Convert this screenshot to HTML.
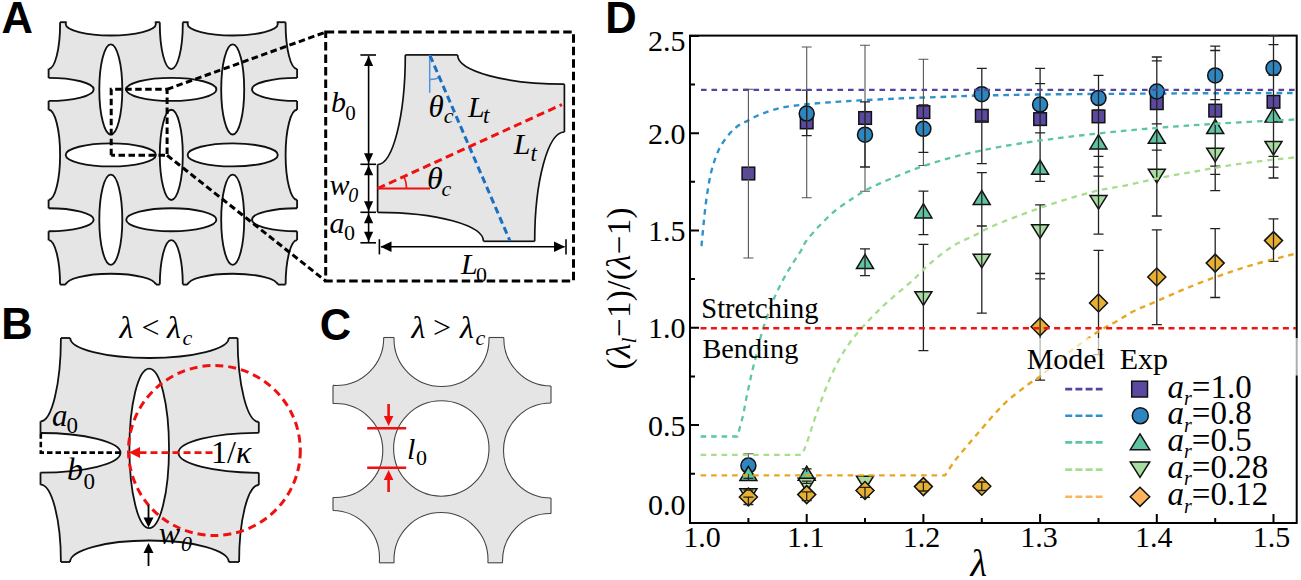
<!DOCTYPE html>
<html><head><meta charset="utf-8"><style>
html,body{margin:0;padding:0;background:#fff;width:1301px;height:580px;overflow:hidden}
svg{display:block}
text{fill:#000}
</style></head><body>
<svg width="1301" height="580" viewBox="0 0 1301 580">
<defs><clipPath id="cA"><rect x="48.6" y="22.2" width="248.5" height="262.4"/></clipPath><mask id="mA" maskUnits="userSpaceOnUse" x="0" y="0" width="1301" height="580"><rect x="0" y="0" width="1301" height="580" fill="#fff"/><ellipse cx="48.6" cy="24" rx="11.5" ry="45.1" fill="#000"/><ellipse cx="110.8" cy="24" rx="45.1" ry="11.5" fill="#000"/><ellipse cx="171.3" cy="24" rx="11.5" ry="45.1" fill="#000"/><ellipse cx="232.7" cy="24" rx="45.1" ry="11.5" fill="#000"/><ellipse cx="297.1" cy="24" rx="11.5" ry="45.1" fill="#000"/><ellipse cx="48.6" cy="89.4" rx="45.1" ry="11.5" fill="#000"/><ellipse cx="110.8" cy="89.4" rx="11.5" ry="45.1" fill="#000"/><ellipse cx="171.3" cy="89.4" rx="45.1" ry="11.5" fill="#000"/><ellipse cx="232.7" cy="89.4" rx="11.5" ry="45.1" fill="#000"/><ellipse cx="297.1" cy="89.4" rx="45.1" ry="11.5" fill="#000"/><ellipse cx="48.6" cy="154.9" rx="11.5" ry="45.1" fill="#000"/><ellipse cx="110.8" cy="154.9" rx="45.1" ry="11.5" fill="#000"/><ellipse cx="171.3" cy="154.9" rx="11.5" ry="45.1" fill="#000"/><ellipse cx="232.7" cy="154.9" rx="45.1" ry="11.5" fill="#000"/><ellipse cx="297.1" cy="154.9" rx="11.5" ry="45.1" fill="#000"/><ellipse cx="48.6" cy="219.7" rx="45.1" ry="11.5" fill="#000"/><ellipse cx="110.8" cy="219.7" rx="11.5" ry="45.1" fill="#000"/><ellipse cx="171.3" cy="219.7" rx="45.1" ry="11.5" fill="#000"/><ellipse cx="232.7" cy="219.7" rx="11.5" ry="45.1" fill="#000"/><ellipse cx="297.1" cy="219.7" rx="45.1" ry="11.5" fill="#000"/><ellipse cx="48.6" cy="285.2" rx="11.5" ry="45.1" fill="#000"/><ellipse cx="110.8" cy="285.2" rx="45.1" ry="11.5" fill="#000"/><ellipse cx="171.3" cy="285.2" rx="11.5" ry="45.1" fill="#000"/><ellipse cx="232.7" cy="285.2" rx="45.1" ry="11.5" fill="#000"/><ellipse cx="297.1" cy="285.2" rx="11.5" ry="45.1" fill="#000"/></mask><clipPath id="cI"><rect x="377.6" y="54.9" width="186.8" height="186.4"/></clipPath><mask id="mI" maskUnits="userSpaceOnUse" x="0" y="0" width="1301" height="580"><rect x="0" y="0" width="1301" height="580" fill="#fff"/><ellipse cx="377.6" cy="54.9" rx="27.7" ry="109.6" fill="#000"/><ellipse cx="564.4" cy="54.9" rx="106.8" ry="29.3" fill="#000"/><ellipse cx="377.6" cy="241.3" rx="105.9" ry="29" fill="#000"/><ellipse cx="564.4" cy="241.3" rx="29.7" ry="109.3" fill="#000"/></mask><clipPath id="cB"><rect x="40.5" y="338" width="218.3" height="224"/></clipPath><mask id="mB" maskUnits="userSpaceOnUse" x="0" y="0" width="1301" height="580"><rect x="0" y="0" width="1301" height="580" fill="#fff"/><ellipse cx="149.5" cy="338" rx="79.3" ry="20" fill="#000"/><ellipse cx="40.5" cy="338" rx="20.4" ry="83.4" fill="#000"/><ellipse cx="258.8" cy="338" rx="21.2" ry="84" fill="#000"/><ellipse cx="40.5" cy="452.8" rx="80" ry="19.8" fill="#000"/><ellipse cx="258.8" cy="452.8" rx="80.4" ry="20" fill="#000"/><ellipse cx="149.2" cy="448.4" rx="19.8" ry="79.8" fill="#000"/><ellipse cx="40.5" cy="562" rx="20.4" ry="77.3" fill="#000"/><ellipse cx="258.8" cy="562" rx="19.7" ry="77" fill="#000"/><ellipse cx="149.4" cy="562" rx="79.4" ry="21.5" fill="#000"/></mask><clipPath id="cC"><rect x="333" y="337.5" width="218" height="225.3"/></clipPath><mask id="mC" maskUnits="userSpaceOnUse" x="0" y="0" width="1301" height="580"><rect x="0" y="0" width="1301" height="580" fill="#fff"/><ellipse cx="336.2" cy="338" rx="47.5" ry="47.5" fill="#000"/><ellipse cx="441.5" cy="339" rx="47.5" ry="47.5" fill="#000"/><ellipse cx="551.3" cy="338.5" rx="47.5" ry="47.5" fill="#000"/><ellipse cx="335.8" cy="450.5" rx="47" ry="47" fill="#000"/><ellipse cx="441.3" cy="448.5" rx="47.7" ry="47.7" fill="#000"/><ellipse cx="551" cy="450.5" rx="47.5" ry="47.5" fill="#000"/><ellipse cx="332" cy="558" rx="47.5" ry="47.5" fill="#000"/><ellipse cx="441" cy="559.5" rx="47" ry="47" fill="#000"/><ellipse cx="550" cy="561" rx="47.5" ry="47.5" fill="#000"/></mask><clipPath id="cp"><rect x="690" y="35.6" width="606.7" height="487.4"/></clipPath></defs>
<text x="1.6" y="32.6" style="font-family:'Liberation Sans',sans-serif;font-weight:bold;font-size:43.5px">A</text>
<text x="1.3" y="338.8" style="font-family:'Liberation Sans',sans-serif;font-weight:bold;font-size:43.5px">B</text>
<text x="319.8" y="339.9" style="font-family:'Liberation Sans',sans-serif;font-weight:bold;font-size:43.5px">C</text>
<text x="605.2" y="32.8" style="font-family:'Liberation Sans',sans-serif;font-weight:bold;font-size:43.5px">D</text>
<rect x="48.6" y="22.2" width="248.5" height="262.4" fill="#e5e5e5" mask="url(#mA)"/>
<g clip-path="url(#cA)" fill="none" stroke="#111" stroke-width="1.85">
<ellipse cx="48.6" cy="24" rx="11.5" ry="45.1"/>
<ellipse cx="110.8" cy="24" rx="45.1" ry="11.5"/>
<ellipse cx="171.3" cy="24" rx="11.5" ry="45.1"/>
<ellipse cx="232.7" cy="24" rx="45.1" ry="11.5"/>
<ellipse cx="297.1" cy="24" rx="11.5" ry="45.1"/>
<ellipse cx="48.6" cy="89.4" rx="45.1" ry="11.5"/>
<ellipse cx="110.8" cy="89.4" rx="11.5" ry="45.1"/>
<ellipse cx="171.3" cy="89.4" rx="45.1" ry="11.5"/>
<ellipse cx="232.7" cy="89.4" rx="11.5" ry="45.1"/>
<ellipse cx="297.1" cy="89.4" rx="45.1" ry="11.5"/>
<ellipse cx="48.6" cy="154.9" rx="11.5" ry="45.1"/>
<ellipse cx="110.8" cy="154.9" rx="45.1" ry="11.5"/>
<ellipse cx="171.3" cy="154.9" rx="11.5" ry="45.1"/>
<ellipse cx="232.7" cy="154.9" rx="45.1" ry="11.5"/>
<ellipse cx="297.1" cy="154.9" rx="11.5" ry="45.1"/>
<ellipse cx="48.6" cy="219.7" rx="45.1" ry="11.5"/>
<ellipse cx="110.8" cy="219.7" rx="11.5" ry="45.1"/>
<ellipse cx="171.3" cy="219.7" rx="45.1" ry="11.5"/>
<ellipse cx="232.7" cy="219.7" rx="11.5" ry="45.1"/>
<ellipse cx="297.1" cy="219.7" rx="45.1" ry="11.5"/>
<ellipse cx="48.6" cy="285.2" rx="11.5" ry="45.1"/>
<ellipse cx="110.8" cy="285.2" rx="45.1" ry="11.5"/>
<ellipse cx="171.3" cy="285.2" rx="11.5" ry="45.1"/>
<ellipse cx="232.7" cy="285.2" rx="45.1" ry="11.5"/>
<ellipse cx="297.1" cy="285.2" rx="11.5" ry="45.1"/>
</g>
<rect x="48.6" y="22.2" width="248.5" height="262.4" fill="none" stroke="#111" stroke-width="1.85" mask="url(#mA)"/>
<path d="M111.2 155.3 V89.3 H167.1 V155.3 H111.2" stroke="#000" stroke-width="3" fill="none" stroke-dasharray="6.5 3.5"/>
<path d="M167.1 89.3 L325.7 32.1 M167.1 155.3 L325.7 281" stroke="#000" stroke-width="3" fill="none" stroke-dasharray="6.5 3.5"/>
<rect x="325.7" y="32.1" width="247.8" height="248.9" stroke="#000" stroke-width="3" fill="none" stroke-dasharray="8.5 4"/>
<rect x="377.6" y="54.9" width="186.8" height="186.4" fill="#e5e5e5" mask="url(#mI)"/>
<g clip-path="url(#cI)" fill="none" stroke="#111" stroke-width="1.7">
<ellipse cx="377.6" cy="54.9" rx="27.7" ry="109.6"/>
<ellipse cx="564.4" cy="54.9" rx="106.8" ry="29.3"/>
<ellipse cx="377.6" cy="241.3" rx="105.9" ry="29"/>
<ellipse cx="564.4" cy="241.3" rx="29.7" ry="109.3"/>
</g>
<rect x="377.6" y="54.9" width="186.8" height="186.4" fill="none" stroke="#111" stroke-width="1.7" mask="url(#mI)"/>
<g stroke="#000" stroke-width="1.6">
<line x1="360.4" y1="55" x2="376" y2="55"/>
<line x1="360.4" y1="164.3" x2="376" y2="164.3"/>
<line x1="360.4" y1="212.3" x2="376" y2="212.3"/>
<line x1="360.4" y1="242.8" x2="376" y2="242.8"/>
<line x1="368.6" y1="56" x2="368.6" y2="242"/>
<line x1="379.4" y1="239.2" x2="379.4" y2="254.4"/>
<line x1="566" y1="239.2" x2="566" y2="254.4"/>
<line x1="381" y1="246.8" x2="564.5" y2="246.8"/>
</g>
<path d="M368.6 56 L373.2 66 L364 66 Z" fill="#000"/>
<path d="M368.6 163.3 L364 153.3 L373.2 153.3 Z" fill="#000"/>
<path d="M368.6 165.3 L373.2 175.3 L364 175.3 Z" fill="#000"/>
<path d="M368.6 211.3 L364 201.3 L373.2 201.3 Z" fill="#000"/>
<path d="M368.6 213.3 L373.2 223.3 L364 223.3 Z" fill="#000"/>
<path d="M368.6 241.8 L364 231.8 L373.2 231.8 Z" fill="#000"/>
<path d="M380.5 246.8 L391.5 241.6 L391.5 252 Z" fill="#000"/>
<path d="M565 246.8 L554 252 L554 241.6 Z" fill="#000"/>
<line x1="429.7" y1="55" x2="429.7" y2="92.8" stroke="#4f93dc" stroke-width="1.5"/>
<path d="M430 79.5 A24.5 24.5 0 0 0 439.7 77.5" fill="none" stroke="#4f93dc" stroke-width="1.5"/>
<line x1="430" y1="55.5" x2="510" y2="241" stroke="#1a6fc4" stroke-width="3" stroke-dasharray="7 4"/>
<line x1="377.6" y1="188.5" x2="430" y2="188.5" stroke="#f01010" stroke-width="1.8"/>
<path d="M406.6 188.5 A29 29 0 0 0 404 176.5" fill="none" stroke="#f01010" stroke-width="1.6"/>
<line x1="377.6" y1="188.5" x2="562" y2="104.5" stroke="#f01010" stroke-width="3" stroke-dasharray="8 4.5"/>
<text x="331" y="112.3" style="font-family:'Liberation Serif',serif;font-style:italic;font-size:30px" >b</text>
<text x="345.2" y="119.9" style="font-family:'Liberation Serif',serif;font-size:21px" >0</text>
<text x="329.5" y="194.6" style="font-family:'Liberation Serif',serif;font-style:italic;font-size:30px" >w</text>
<text x="348.3" y="201.7" style="font-family:'Liberation Serif',serif;font-style:italic;font-size:20px" >0</text>
<text x="329.6" y="233.3" style="font-family:'Liberation Serif',serif;font-style:italic;font-size:30px" >a</text>
<text x="344.1" y="240.2" style="font-family:'Liberation Serif',serif;font-size:22px" >0</text>
<text x="428.5" y="117.4" style="font-family:'Liberation Serif',serif;font-style:italic;font-size:31px" >θ</text>
<text x="443.8" y="122.9" style="font-family:'Liberation Serif',serif;font-style:italic;font-size:22px" >c</text>
<text x="468" y="116.9" style="font-family:'Liberation Serif',serif;font-style:italic;font-size:30px" >L</text>
<text x="483" y="123" style="font-family:'Liberation Serif',serif;font-style:italic;font-size:23px" >t</text>
<text x="513.8" y="153.8" style="font-family:'Liberation Serif',serif;font-style:italic;font-size:30px" >L</text>
<text x="530.5" y="161" style="font-family:'Liberation Serif',serif;font-style:italic;font-size:23px" >t</text>
<text x="427" y="188.7" style="font-family:'Liberation Serif',serif;font-style:italic;font-size:32px" >θ</text>
<text x="441.4" y="195.7" style="font-family:'Liberation Serif',serif;font-style:italic;font-size:22px" >c</text>
<text x="461" y="274.4" style="font-family:'Liberation Serif',serif;font-style:italic;font-size:30px" >L</text>
<text x="476" y="281.5" style="font-family:'Liberation Serif',serif;font-size:22px" >0</text>
<rect x="40.5" y="338" width="218.3" height="224" fill="#e5e5e5" mask="url(#mB)"/>
<g clip-path="url(#cB)" fill="none" stroke="#111" stroke-width="1.8">
<ellipse cx="149.5" cy="338" rx="79.3" ry="20"/>
<ellipse cx="40.5" cy="338" rx="20.4" ry="83.4"/>
<ellipse cx="258.8" cy="338" rx="21.2" ry="84"/>
<ellipse cx="40.5" cy="452.8" rx="80" ry="19.8"/>
<ellipse cx="258.8" cy="452.8" rx="80.4" ry="20"/>
<ellipse cx="149.2" cy="448.4" rx="19.8" ry="79.8"/>
<ellipse cx="40.5" cy="562" rx="20.4" ry="77.3"/>
<ellipse cx="258.8" cy="562" rx="19.7" ry="77"/>
<ellipse cx="149.4" cy="562" rx="79.4" ry="21.5"/>
</g>
<rect x="40.5" y="338" width="218.3" height="224" fill="none" stroke="#111" stroke-width="1.8" mask="url(#mB)"/>
<path d="M40.8 433.3 V452.6 H120" stroke="#000" stroke-width="2.6" fill="none" stroke-dasharray="5.5 3"/>
<ellipse cx="214.4" cy="450.5" rx="85.9" ry="85" fill="none" stroke="#f01010" stroke-width="3" stroke-dasharray="8 5"/>
<line x1="212.5" y1="452.6" x2="136" y2="452.6" stroke="#f01010" stroke-width="2.6" stroke-dasharray="7 4"/>
<path d="M129 452.6 L140 447.1 L140 458.1 Z" fill="#f01010"/>
<line x1="148.5" y1="505" x2="148.5" y2="520" stroke="#000" stroke-width="1.8"/>
<path d="M148.5 527.5 L143.5 517.5 L153.5 517.5 Z" fill="#000"/>
<line x1="148.5" y1="566" x2="148.5" y2="550" stroke="#000" stroke-width="1.8"/>
<path d="M148.5 543 L153.5 553 L143.5 553 Z" fill="#000"/>
<text x="119.5" y="338.3" style="font-family:'Liberation Serif',serif;font-style:italic;font-size:32px" >λ</text>
<text x="141.5" y="338.3" style="font-family:'Liberation Serif',serif;font-size:32px" >&lt;</text>
<text x="167" y="338.3" style="font-family:'Liberation Serif',serif;font-style:italic;font-size:32px" >λ</text>
<text x="182.5" y="344.5" style="font-family:'Liberation Serif',serif;font-style:italic;font-size:22px" >c</text>
<text x="52" y="426.2" style="font-family:'Liberation Serif',serif;font-style:italic;font-size:31px" >a</text>
<text x="66.5" y="433.4" style="font-family:'Liberation Serif',serif;font-size:23px" >0</text>
<text x="67" y="479.9" style="font-family:'Liberation Serif',serif;font-style:italic;font-size:32px" >b</text>
<text x="83.6" y="488.6" style="font-family:'Liberation Serif',serif;font-size:23px" >0</text>
<text x="211.1" y="463.3" style="font-family:'Liberation Serif',serif;font-size:32px">1/<tspan style="font-style:italic">κ</tspan></text>
<text x="158.8" y="544.3" style="font-family:'Liberation Serif',serif;font-style:italic;font-size:32px" >w</text>
<text x="180.9" y="551.3" style="font-family:'Liberation Serif',serif;font-style:italic;font-size:22px" >0</text>
<rect x="333" y="337.5" width="218" height="225.3" fill="#e5e5e5" mask="url(#mC)"/>
<g clip-path="url(#cC)" fill="none" stroke="#444" stroke-width="1.1">
<ellipse cx="336.2" cy="338" rx="47.5" ry="47.5"/>
<ellipse cx="441.5" cy="339" rx="47.5" ry="47.5"/>
<ellipse cx="551.3" cy="338.5" rx="47.5" ry="47.5"/>
<ellipse cx="335.8" cy="450.5" rx="47" ry="47"/>
<ellipse cx="441.3" cy="448.5" rx="47.7" ry="47.7"/>
<ellipse cx="551" cy="450.5" rx="47.5" ry="47.5"/>
<ellipse cx="332" cy="558" rx="47.5" ry="47.5"/>
<ellipse cx="441" cy="559.5" rx="47" ry="47"/>
<ellipse cx="550" cy="561" rx="47.5" ry="47.5"/>
</g>
<rect x="333" y="337.5" width="218" height="225.3" fill="none" stroke="#444" stroke-width="1.1" mask="url(#mC)"/>
<text x="411.5" y="337.9" style="font-family:'Liberation Serif',serif;font-style:italic;font-size:32px" >λ</text>
<text x="433" y="337.9" style="font-family:'Liberation Serif',serif;font-size:32px" >&gt;</text>
<text x="460" y="337.9" style="font-family:'Liberation Serif',serif;font-style:italic;font-size:32px" >λ</text>
<text x="475.5" y="344.5" style="font-family:'Liberation Serif',serif;font-style:italic;font-size:22px" >c</text>
<g stroke="#f01010" stroke-width="2.6"><line x1="367.2" y1="428.3" x2="406.2" y2="428.3"/><line x1="367.2" y1="467.7" x2="406.2" y2="467.7"/><line x1="388.6" y1="404" x2="388.6" y2="418"/><line x1="388.6" y1="478" x2="388.6" y2="492"/></g>
<path d="M388.6 426 L383.8 416 L393.4 416 Z" fill="#f01010"/>
<path d="M388.6 470 L393.4 480 L383.8 480 Z" fill="#f01010"/>
<text x="407" y="459" style="font-family:'Liberation Serif',serif;font-style:italic;font-size:30px" >l</text>
<text x="416" y="465.2" style="font-family:'Liberation Serif',serif;font-size:22px" >0</text>
<rect x="690" y="35.6" width="606.7" height="487.4" fill="none" stroke="#000" stroke-width="2"/>
<path d="M690 473.8 h5 M690 425.1 h9 M690 376.4 h5 M690 327.8 h9 M690 279.1 h5 M690 230.5 h9 M690 181.8 h5 M690 133.2 h9 M690 84.6 h5 M690 35.9 h9 M748.4 523 v-5 M806.7 523 v-9 M865 523 v-5 M923.4 523 v-9 M981.8 523 v-5 M1040.1 523 v-9 M1098.5 523 v-5 M1156.8 523 v-9 M1215.2 523 v-5 M1273.5 523 v-9" stroke="#000" stroke-width="2" fill="none"/>
<text x="685.6" y="515.3" text-anchor="end" style="font-family:'Liberation Serif',serif;font-size:30px">0.0</text>
<text x="685.6" y="435.5" text-anchor="end" style="font-family:'Liberation Serif',serif;font-size:30px">0.5</text>
<text x="685.6" y="338.2" text-anchor="end" style="font-family:'Liberation Serif',serif;font-size:30px">1.0</text>
<text x="685.6" y="240.9" text-anchor="end" style="font-family:'Liberation Serif',serif;font-size:30px">1.5</text>
<text x="685.6" y="143.6" text-anchor="end" style="font-family:'Liberation Serif',serif;font-size:30px">2.0</text>
<text x="685.6" y="51.2" text-anchor="end" style="font-family:'Liberation Serif',serif;font-size:30px">2.5</text>
<text x="702" y="546.8" text-anchor="middle" style="font-family:'Liberation Serif',serif;font-size:30px">1.0</text>
<text x="805.7" y="546.8" text-anchor="middle" style="font-family:'Liberation Serif',serif;font-size:30px">1.1</text>
<text x="921.4" y="546.8" text-anchor="middle" style="font-family:'Liberation Serif',serif;font-size:30px">1.2</text>
<text x="1039.1" y="546.8" text-anchor="middle" style="font-family:'Liberation Serif',serif;font-size:30px">1.3</text>
<text x="1153.8" y="546.8" text-anchor="middle" style="font-family:'Liberation Serif',serif;font-size:30px">1.4</text>
<text x="1271.5" y="546.8" text-anchor="middle" style="font-family:'Liberation Serif',serif;font-size:30px">1.5</text>
<text x="970.5" y="576.2" style="font-family:'Liberation Serif',serif;font-style:italic;font-size:38px" >λ</text>
<text transform="translate(629.8,288.3) rotate(-90)" text-anchor="middle" style="font-family:'Liberation Serif',serif;font-size:33px;letter-spacing:0.35px">(<tspan style="font-style:italic">λ</tspan><tspan style="font-style:italic;font-size:22px" dy="6">l</tspan><tspan dy="-6">−1)/(</tspan><tspan style="font-style:italic">λ</tspan>−1)</text>
<g clip-path="url(#cp)" fill="none" stroke-width="2.4" stroke-dasharray="5.6 4.9">
<path d="M701.5 246.1 C701.9 241.7 703.1 228.3 704 219.8 C704.9 211.3 705.7 203.3 707 195 C708.3 186.7 709.6 177.8 711.7 170 C713.8 162.2 716.4 154.5 719.5 148.3 C722.6 142.1 727 136.8 730.4 132.8 C733.8 128.8 737.1 126.5 740 124.5 C742.9 122.5 744.7 122.3 748 120.6 C751.3 118.9 754.7 116.6 760 114.5 C765.3 112.4 773.3 109.6 780 108 C786.7 106.4 793.3 105.8 800 105 C806.7 104.2 813.3 103.6 820 103 C826.7 102.4 833.3 102 840 101.6 C846.7 101.2 850 100.9 860 100.4 C870 99.9 886.7 99 900 98.4 C913.3 97.8 926.7 97.5 940 97 C953.3 96.5 963.3 96 980 95.6 C996.7 95.2 1016.7 94.8 1040 94.5 C1063.3 94.2 1093.3 94 1120 93.8 C1146.7 93.6 1170.7 93.4 1200 93.3 C1229.3 93.2 1280 93 1296 93" stroke="#2d92cc"/>
</g>
<rect x="742.1" y="167.2" width="12.6" height="12.6" fill="#5b48a0" stroke="#111" stroke-width="1.5"/>
<circle cx="748.4" cy="465.6" r="7.5" fill="#2e86c1" stroke="#111" stroke-width="1.5"/>
<path d="M748.4 466.3 L756.9 480.5 L739.9 480.5 Z" fill="#5fc3a0" stroke="#111" stroke-width="1.5" stroke-linejoin="miter"/>
<path d="M748.4 502.3 L756.9 488.7 L739.9 488.7 Z" fill="#a8dca0" stroke="#111" stroke-width="1.5"/>
<path d="M748.4 488 L757.4 497 L748.4 506 L739.4 497 Z" fill="#e8b030" stroke="#111" stroke-width="1.5"/>
<rect x="800.4" y="116.1" width="12.6" height="12.6" fill="#5b48a0" stroke="#111" stroke-width="1.5"/>
<circle cx="806.7" cy="113.6" r="7.5" fill="#2e86c1" stroke="#111" stroke-width="1.5"/>
<path d="M806.7 466.1 L815.2 480.3 L798.2 480.3 Z" fill="#5fc3a0" stroke="#111" stroke-width="1.5" stroke-linejoin="miter"/>
<path d="M806.7 491.8 L815.2 478.2 L798.2 478.2 Z" fill="#a8dca0" stroke="#111" stroke-width="1.5"/>
<path d="M806.7 485.6 L815.7 494.6 L806.7 503.6 L797.7 494.6 Z" fill="#e8b030" stroke="#111" stroke-width="1.5"/>
<rect x="858.8" y="111.7" width="12.6" height="12.6" fill="#5b48a0" stroke="#111" stroke-width="1.5"/>
<circle cx="865" cy="134.7" r="7.5" fill="#2e86c1" stroke="#111" stroke-width="1.5"/>
<path d="M865 254.4 L873.5 268.6 L856.5 268.6 Z" fill="#5fc3a0" stroke="#111" stroke-width="1.5" stroke-linejoin="miter"/>
<path d="M865 489.8 L873.5 476.2 L856.5 476.2 Z" fill="#a8dca0" stroke="#111" stroke-width="1.5"/>
<path d="M865 481.5 L874 490.5 L865 499.5 L856 490.5 Z" fill="#e8b030" stroke="#111" stroke-width="1.5"/>
<rect x="917.1" y="105.8" width="12.6" height="12.6" fill="#5b48a0" stroke="#111" stroke-width="1.5"/>
<circle cx="923.4" cy="128.8" r="7.5" fill="#2e86c1" stroke="#111" stroke-width="1.5"/>
<path d="M923.4 203.7 L931.9 217.9 L914.9 217.9 Z" fill="#5fc3a0" stroke="#111" stroke-width="1.5" stroke-linejoin="miter"/>
<path d="M923.4 305.3 L931.9 291.7 L914.9 291.7 Z" fill="#a8dca0" stroke="#111" stroke-width="1.5"/>
<path d="M923.4 477.6 L932.4 486.6 L923.4 495.6 L914.4 486.6 Z" fill="#e8b030" stroke="#111" stroke-width="1.5"/>
<rect x="975.5" y="109.5" width="12.6" height="12.6" fill="#5b48a0" stroke="#111" stroke-width="1.5"/>
<circle cx="981.8" cy="94.2" r="7.5" fill="#2e86c1" stroke="#111" stroke-width="1.5"/>
<path d="M981.8 190.4 L990.2 204.6 L973.2 204.6 Z" fill="#5fc3a0" stroke="#111" stroke-width="1.5" stroke-linejoin="miter"/>
<path d="M981.8 267.8 L990.2 254.2 L973.2 254.2 Z" fill="#a8dca0" stroke="#111" stroke-width="1.5"/>
<path d="M981.8 477.3 L990.8 486.3 L981.8 495.3 L972.8 486.3 Z" fill="#e8b030" stroke="#111" stroke-width="1.5"/>
<rect x="1033.8" y="112.8" width="12.6" height="12.6" fill="#5b48a0" stroke="#111" stroke-width="1.5"/>
<circle cx="1040.1" cy="104.6" r="7.5" fill="#2e86c1" stroke="#111" stroke-width="1.5"/>
<path d="M1040.1 160.1 L1048.6 174.3 L1031.6 174.3 Z" fill="#5fc3a0" stroke="#111" stroke-width="1.5" stroke-linejoin="miter"/>
<path d="M1040.1 238.3 L1048.6 224.7 L1031.6 224.7 Z" fill="#a8dca0" stroke="#111" stroke-width="1.5"/>
<path d="M1040.1 317.8 L1049.1 326.8 L1040.1 335.8 L1031.1 326.8 Z" fill="#e8b030" stroke="#111" stroke-width="1.5"/>
<rect x="1092.2" y="110.1" width="12.6" height="12.6" fill="#5b48a0" stroke="#111" stroke-width="1.5"/>
<circle cx="1098.5" cy="98.1" r="7.5" fill="#2e86c1" stroke="#111" stroke-width="1.5"/>
<path d="M1098.5 134.7 L1107 148.9 L1090 148.9 Z" fill="#5fc3a0" stroke="#111" stroke-width="1.5" stroke-linejoin="miter"/>
<path d="M1098.5 209.2 L1107 195.6 L1090 195.6 Z" fill="#a8dca0" stroke="#111" stroke-width="1.5"/>
<path d="M1098.5 294 L1107.5 303 L1098.5 312 L1089.5 303 Z" fill="#e8b030" stroke="#111" stroke-width="1.5"/>
<rect x="1150.5" y="96.9" width="12.6" height="12.6" fill="#5b48a0" stroke="#111" stroke-width="1.5"/>
<circle cx="1156.8" cy="91.5" r="7.5" fill="#2e86c1" stroke="#111" stroke-width="1.5"/>
<path d="M1156.8 129.1 L1165.3 143.3 L1148.3 143.3 Z" fill="#5fc3a0" stroke="#111" stroke-width="1.5" stroke-linejoin="miter"/>
<path d="M1156.8 182.8 L1165.3 169.2 L1148.3 169.2 Z" fill="#a8dca0" stroke="#111" stroke-width="1.5"/>
<path d="M1156.8 268 L1165.8 277 L1156.8 286 L1147.8 277 Z" fill="#e8b030" stroke="#111" stroke-width="1.5"/>
<rect x="1208.9" y="104.3" width="12.6" height="12.6" fill="#5b48a0" stroke="#111" stroke-width="1.5"/>
<circle cx="1215.2" cy="75.4" r="7.5" fill="#2e86c1" stroke="#111" stroke-width="1.5"/>
<path d="M1215.2 119.4 L1223.7 133.6 L1206.7 133.6 Z" fill="#5fc3a0" stroke="#111" stroke-width="1.5" stroke-linejoin="miter"/>
<path d="M1215.2 161.8 L1223.7 148.2 L1206.7 148.2 Z" fill="#a8dca0" stroke="#111" stroke-width="1.5"/>
<path d="M1215.2 254.1 L1224.2 263.1 L1215.2 272.1 L1206.2 263.1 Z" fill="#e8b030" stroke="#111" stroke-width="1.5"/>
<rect x="1267.2" y="95.5" width="12.6" height="12.6" fill="#5b48a0" stroke="#111" stroke-width="1.5"/>
<circle cx="1273.5" cy="68.1" r="7.5" fill="#2e86c1" stroke="#111" stroke-width="1.5"/>
<path d="M1273.5 107.7 L1282 121.9 L1265 121.9 Z" fill="#5fc3a0" stroke="#111" stroke-width="1.5" stroke-linejoin="miter"/>
<path d="M1273.5 155.1 L1282 141.5 L1265 141.5 Z" fill="#a8dca0" stroke="#111" stroke-width="1.5"/>
<path d="M1273.5 231.6 L1282.5 240.6 L1273.5 249.6 L1264.5 240.6 Z" fill="#e8b030" stroke="#111" stroke-width="1.5"/>
<path d="M748.4 89.3 V258 M743.4 89.3 h10 M743.4 258 h10 M748.4 453.8 V459 M743.4 453.8 h10 M806.7 47 V197.7 M801.7 47 h10 M801.7 197.7 h10 M865 45.2 V191.3 M860 45.2 h10 M860 191.3 h10 M923.4 59.3 V165.5 M918.4 59.3 h10 M918.4 165.5 h10" stroke="#555" stroke-width="1.1" fill="none"/>
<path d="M806.7 90.1 V135.6 M801.7 90.1 h10 M801.7 135.6 h10 M865 101.8 V167 M860 101.8 h10 M860 167 h10 M865 248.8 V275.6 M860 248.8 h10 M860 275.6 h10 M923.4 104.8 V152.4 M918.4 104.8 h10 M918.4 152.4 h10 M923.4 191.2 V234.7 M918.4 191.2 h10 M918.4 234.7 h10 M923.4 244.3 V350.7 M918.4 244.3 h10 M918.4 350.7 h10 M981.8 68.4 V163.6 M976.8 68.4 h10 M976.8 120.8 h10 M976.8 163.6 h10 M981.8 172.6 V313.2 M976.8 172.6 h10 M976.8 226 h10 M976.8 313.2 h10 M1040.1 68.4 V181.4 M1035.1 68.4 h10 M1035.1 83.6 h10 M1035.1 132.9 h10 M1035.1 181.4 h10 M1040.1 204.9 V380.2 M1035.1 204.9 h10 M1035.1 273.5 h10 M1035.1 278.8 h10 M1035.1 380.2 h10 M1098.5 75.3 V234.1 M1093.5 75.3 h10 M1093.5 110.1 h10 M1093.5 156.3 h10 M1093.5 167.2 h10 M1093.5 176.2 h10 M1093.5 234.1 h10 M1098.5 250.4 V354.7 M1093.5 250.4 h10 M1093.5 354.7 h10 M1156.8 57 V216 M1151.8 57 h10 M1151.8 60.8 h10 M1151.8 123.8 h10 M1151.8 150.1 h10 M1151.8 216 h10 M1156.8 229.8 V324.6 M1151.8 229.8 h10 M1151.8 324.6 h10 M1215.2 46.1 V190.7 M1210.2 46.1 h10 M1210.2 50.5 h10 M1210.2 99.7 h10 M1210.2 166.2 h10 M1210.2 174.4 h10 M1210.2 190.7 h10 M1215.2 228.7 V297.5 M1210.2 228.7 h10 M1210.2 297.5 h10 M1273.5 35.6 V178 M1268.5 35.6 h10 M1268.5 44.6 h10 M1268.5 75.4 h10 M1268.5 156.3 h10 M1268.5 167.2 h10 M1268.5 178 h10 M1273.5 218.9 V261.3 M1268.5 218.9 h10 M1268.5 261.3 h10 M748.4 497.1 V504.5 M743.4 497.1 h10 M743.4 504.5 h10 M806.7 491.8 V500.7 M801.7 491.8 h10 M801.7 500.7 h10 M865 487.3 V497.4 M860 487.3 h10 M860 497.4 h10 M748.4 490.1 V490.1 M743.4 490.1 h10 M806.7 481.2 V483.4 M801.7 481.2 h10 M801.7 483.4 h10 M806.7 468.9 V472 M801.7 468.9 h10 M748.4 474 V481 M743.4 478.4 h10 M923.4 482 V491 M918.4 482 h10 M918.4 491 h10 M981.8 482 V490.5 M976.8 482 h10 M976.8 490.5 h10" stroke="#222" stroke-width="1.3" fill="none"/>
<path d="M700.6 454.9 H801.5 C802.4 453 803.9 451.1 806.6 443.5 C809.4 435.9 813.6 421.3 818 409.3 C822.4 397.3 828.1 382.1 833.1 371.4 C838.1 360.6 842.9 352.7 848.3 344.8 C853.7 336.9 859.1 330.9 865.4 324 C871.7 317.1 878.3 310.4 886.2 303.1 C894.1 295.8 905.6 286.8 912.8 280.3 C920 273.8 923 269.6 929.5 264 C936 258.4 944.5 251.4 952 246.6 C959.5 241.8 967.3 238.9 974.4 235.4 C981.5 231.9 983.7 229.9 994.6 225.3 C1005.5 220.7 1024.1 213.5 1040 208 C1055.9 202.5 1075.6 196.3 1090 192.5 C1104.4 188.7 1114.1 187.8 1126.2 185.3 C1138.3 182.8 1150.3 179.7 1162.4 177.3 C1174.5 174.9 1186.5 172.9 1198.6 170.8 C1210.7 168.7 1222.7 166.4 1234.8 164.6 C1246.9 162.8 1260.8 161.1 1271 159.9 C1281.2 158.7 1291.8 157.7 1296 157.3" stroke="#a6de8e" fill="none" stroke-width="2.3" stroke-dasharray="5.6 4.9" clip-path="url(#cp)"/>
<path d="M700.6 475.4 H945 C946.7 472.7 951.7 465 955.4 460.1 C959.1 455.2 963 450.8 967 446 C971 441.2 973.4 438.3 979.5 431.4 C985.6 424.4 995.7 412.1 1003.7 404.3 C1011.8 396.5 1021.8 389.3 1027.8 384.7 C1033.8 380.1 1032.9 382 1039.9 376.5 C1046.9 371 1060 359.2 1070 351.5 C1080 343.8 1092.1 335.6 1100 330.5 C1107.9 325.4 1111.5 324.3 1117.2 321 C1123 317.7 1127.9 314 1134.5 310.7 C1141.1 307.4 1148.3 304.9 1156.9 301.2 C1165.5 297.5 1175.6 292.6 1186.2 288.3 C1196.8 284 1209.2 279.3 1220.7 275.3 C1232.2 271.3 1242.7 267.7 1255.2 264.1 C1267.8 260.5 1289.2 255.3 1296 253.5" stroke="#e6a822" fill="none" stroke-width="2.4" stroke-dasharray="5.6 4.9" clip-path="url(#cp)"/>
<path d="M700.6 436.5 H737.4 C738.3 432.9 741.1 423.5 742.7 416.7 C744.3 409.9 745.4 402.6 746.9 395.5 C748.4 388.4 749.9 381.4 751.5 374.3 C753.1 367.2 755 360.1 756.8 353 C758.6 345.9 760 338.9 762.1 331.9 C764.2 324.8 766.7 317.5 769.2 310.7 C771.7 303.9 774.1 298 777.3 291.2 C780.5 284.4 784.6 276.8 788.6 270 C792.6 263.2 798.1 255.4 801 250.6 C803.9 245.8 803.1 245.2 806.2 241 C809.3 236.8 814.8 230.6 819.7 225.5 C824.6 220.4 829.8 215.1 835.4 210.5 C841 205.9 847.7 201.7 853.3 198 C858.9 194.3 862.6 191.8 869 188.5 C875.4 185.2 882.8 182.1 891.4 178.5 C900 174.9 910.5 170.5 920.6 167 C930.7 163.5 941.9 160.1 952 157.4 C962.1 154.7 969.8 152.9 981.1 150.6 C992.4 148.3 1003.5 146 1020 143.5 C1036.5 141 1058.3 138 1080 135.5 C1101.7 133 1126.7 130.5 1150 128.5 C1173.3 126.5 1195.7 125 1220 123.5 C1244.3 122 1283.3 120.1 1296 119.4" stroke="#5cc6a0" fill="none" stroke-width="2.3" stroke-dasharray="5.6 4.9" clip-path="url(#cp)"/>
<line x1="701" y1="89.9" x2="1296" y2="89.9" stroke="#5444a2" stroke-width="2.4" stroke-dasharray="5.6 4.9"/>
<line x1="700.5" y1="328.2" x2="1296" y2="328.2" stroke="#f01414" stroke-width="2.6" stroke-dasharray="6 4.4"/>
<rect x="1032" y="338" width="270" height="37.5" fill="#fff" fill-opacity="0.68"/>
<text x="1026.7" y="368.7" style="font-family:'Liberation Serif',serif;font-size:30px" >Model</text>
<text x="1119.8" y="368.7" style="font-family:'Liberation Serif',serif;font-size:30px" >Exp</text>
<line x1="1065.2" y1="389.1" x2="1102.6" y2="389.1" stroke="#5444a2" stroke-width="2.6" stroke-dasharray="7 3.2"/>
<rect x="1131.7" y="381.2" width="15.8" height="15.8" fill="#5b48a0" stroke="#111" stroke-width="1.5"/>
<text x="1167.5" y="397.5" style="font-family:'Liberation Serif',serif;font-size:33px"><tspan style="font-style:italic">a</tspan><tspan style="font-style:italic;font-size:20px" dy="7.4">r</tspan><tspan dy="-7.4">=1.0</tspan></text>
<line x1="1065.2" y1="415.7" x2="1102.6" y2="415.7" stroke="#2d92cc" stroke-width="2.6" stroke-dasharray="7 3.2"/>
<circle cx="1140.3" cy="415.7" r="8" fill="#2e86c1" stroke="#111" stroke-width="1.5"/>
<text x="1167.5" y="424.1" style="font-family:'Liberation Serif',serif;font-size:33px"><tspan style="font-style:italic">a</tspan><tspan style="font-style:italic;font-size:20px" dy="7.4">r</tspan><tspan dy="-7.4">=0.8</tspan></text>
<line x1="1065.2" y1="442.4" x2="1102.6" y2="442.4" stroke="#5cc6a0" stroke-width="2.6" stroke-dasharray="7 3.2"/>
<path d="M1140 433.9 L1149.7 449.7 L1130.3 449.7 Z" fill="#5fc3a0" stroke="#111" stroke-width="1.5" stroke-linejoin="miter"/>
<text x="1167.5" y="450.8" style="font-family:'Liberation Serif',serif;font-size:33px"><tspan style="font-style:italic">a</tspan><tspan style="font-style:italic;font-size:20px" dy="7.4">r</tspan><tspan dy="-7.4">=0.5</tspan></text>
<line x1="1065.2" y1="469.6" x2="1102.6" y2="469.6" stroke="#a6de8e" stroke-width="2.6" stroke-dasharray="7 3.2"/>
<path d="M1140 477.4 L1149.7 461.9 L1130.3 461.9 Z" fill="#a8dca0" stroke="#111" stroke-width="1.5"/>
<text x="1167.5" y="478" style="font-family:'Liberation Serif',serif;font-size:33px"><tspan style="font-style:italic">a</tspan><tspan style="font-style:italic;font-size:20px" dy="7.4">r</tspan><tspan dy="-7.4">=0.28</tspan></text>
<line x1="1065.2" y1="496.8" x2="1102.6" y2="496.8" stroke="#fdb45c" stroke-width="2.6" stroke-dasharray="7 3.2"/>
<path d="M1140 487.2 L1149.7 496.8 L1140 506.4 L1130.3 496.8 Z" fill="#fdb45c" stroke="#111" stroke-width="1.5"/>
<text x="1167.5" y="505.2" style="font-family:'Liberation Serif',serif;font-size:33px"><tspan style="font-style:italic">a</tspan><tspan style="font-style:italic;font-size:20px" dy="7.4">r</tspan><tspan dy="-7.4">=0.12</tspan></text>
<text x="701.3" y="318.3" style="font-family:'Liberation Serif',serif;font-size:28.5px" >Stretching</text>
<text x="702.4" y="358.3" style="font-family:'Liberation Serif',serif;font-size:28.3px" >Bending</text>
</svg>
</body></html>
